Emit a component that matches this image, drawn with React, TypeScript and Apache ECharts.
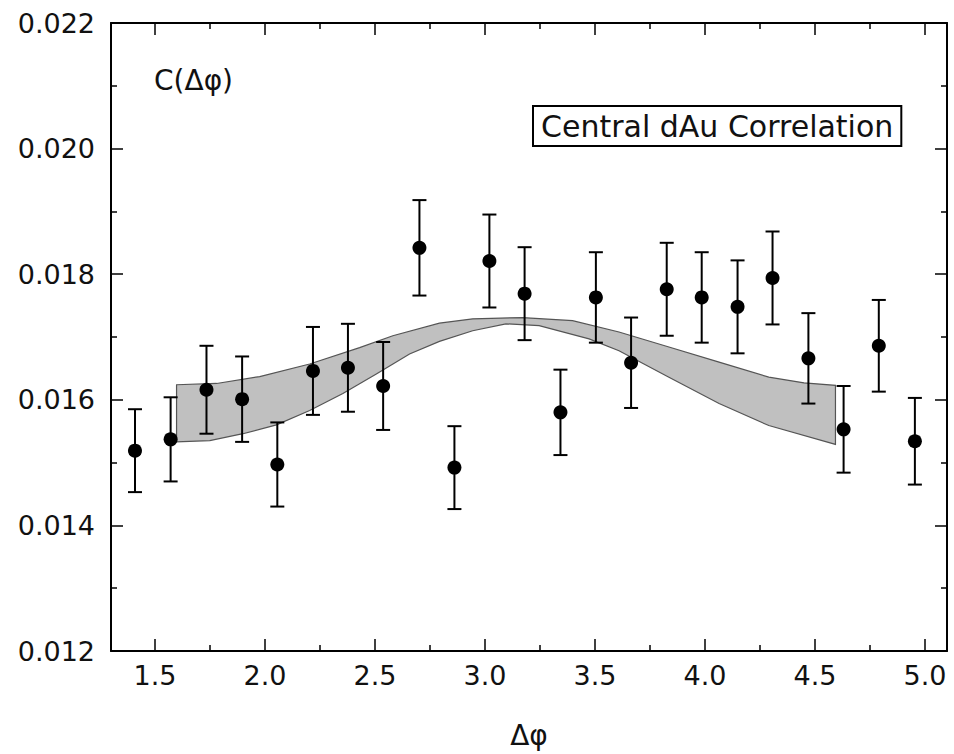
import React, { useEffect, useRef } from "react";
import * as echarts from "echarts";

// Data points: Δφ, C(Δφ), error
const phi = [1.409, 1.571, 1.734, 1.896, 2.056, 2.218, 2.377, 2.537, 2.702, 2.861, 3.02, 3.18, 3.343, 3.504, 3.664, 3.826, 3.985, 4.148, 4.307, 4.47, 4.63, 4.79, 4.954];
const corr = [0.01519, 0.01537, 0.01616, 0.01601, 0.01497, 0.01646, 0.01651, 0.01622, 0.01842, 0.01492, 0.01821, 0.01769, 0.0158, 0.01763, 0.01659, 0.01776, 0.01763, 0.01748, 0.01794, 0.01666, 0.01553, 0.01686, 0.01534];
const corrErr = [0.00066, 0.00067, 0.0007, 0.00068, 0.00067, 0.0007, 0.0007, 0.0007, 0.00076, 0.00066, 0.00074, 0.00074, 0.00068, 0.00072, 0.00072, 0.00074, 0.00072, 0.00074, 0.00074, 0.00072, 0.00069, 0.00073, 0.00069];

// Systematic band (upper and lower edges)
const bandUpperX = [1.598, 1.78, 1.976, 2.203, 2.43, 2.581, 2.793, 2.944, 3.171, 3.398, 3.609, 3.836, 4.064, 4.29, 4.45, 4.593];
const bandUpperY = [0.01624, 0.01626, 0.01637, 0.01657, 0.01683, 0.01702, 0.01722, 0.01729, 0.01731, 0.01726, 0.01708, 0.01684, 0.0166, 0.01636, 0.01627, 0.01623];
const bandLowerX = [1.598, 1.749, 1.9, 2.052, 2.203, 2.354, 2.506, 2.657, 2.793, 2.944, 3.095, 3.246, 3.473, 3.609, 3.836, 4.064, 4.29, 4.593];
const bandLowerY = [0.01533, 0.01535, 0.01546, 0.0156, 0.01583, 0.0161, 0.01641, 0.01673, 0.01693, 0.0171, 0.01721, 0.01718, 0.01697, 0.01678, 0.01636, 0.01594, 0.01559, 0.01529];

const xMin = 1.3;
const xMax = 5.1;
const yMin = 0.012;
const yMax = 0.022;
const yStep = 0.002;

const FONT = "DejaVu Sans";
const TEXT = "#111";

export default function App() {
  const ref = useRef<HTMLDivElement>(null);
  useEffect(() => {
    const chart = echarts.init(ref.current!, null, { renderer: "svg" });
    const line = { show: true, onZero: false, lineStyle: { color: "#000", width: 2 } };
    const tick = { show: true, inside: true, length: 12, lineStyle: { color: "#000", width: 1.5 } };
    const minor = { show: true, splitNumber: 2, length: 6, lineStyle: { color: "#000", width: 1.5 } };
    const xCommon: any = {
      type: "value", min: xMin, max: xMax, minInterval: 0.5, maxInterval: 0.5,
      splitLine: { show: false }, minorSplitLine: { show: false },
      axisLine: line, axisTick: tick, minorTick: minor,
    };
    const yCommon: any = {
      type: "value", min: yMin, max: yMax, interval: yStep,
      splitLine: { show: false }, minorSplitLine: { show: false },
      axisLine: line, axisTick: tick, minorTick: minor,
    };
    const barStyle = { stroke: "#000", lineWidth: 2 };
    chart.setOption({
      animation: false,
      backgroundColor: "#fff",
      grid: { left: 111, right: 7, top: 23, bottom: 101, containLabel: false },
      legend: {
        data: [{ name: "Central dAu Correlation", icon: "none" }],
        left: 533, top: 106, itemWidth: 0, itemGap: 0,
        padding: [5, 8, 5, 3], borderColor: "#000", borderWidth: 2,
        selectedMode: false,
        textStyle: { fontSize: 30, fontFamily: FONT, color: TEXT },
      },
      xAxis: [
        {
          ...xCommon, position: "bottom",
          axisLabel: {
            fontSize: 27, fontFamily: FONT, color: TEXT, margin: 11,
            showMinLabel: false, showMaxLabel: false,
            formatter: (v: number) => v.toFixed(1),
          },
          name: "Δφ", nameLocation: "middle", nameGap: 70,
          nameTextStyle: { fontSize: 28, fontFamily: FONT, color: TEXT },
        },
        { ...xCommon, position: "top", axisLabel: { show: false } },
      ],
      yAxis: [
        {
          ...yCommon, position: "left",
          axisLabel: {
            fontSize: 27, fontFamily: FONT, color: TEXT, margin: 16,
            formatter: (v: number) => v.toFixed(3),
          },
        },
        { ...yCommon, position: "right", axisLabel: { show: false } },
      ],
      graphic: [
        {
          type: "text", left: 154, top: 66,
          style: { text: "C(Δφ)", fontSize: 28, fontFamily: FONT, fill: TEXT },
        },
      ],
      series: [
        {
          type: "custom", name: "Central dAu Correlation",
          xAxisIndex: 0, yAxisIndex: 0, silent: true, z: 1,
          data: [[bandUpperX[0], bandUpperY[0]]],
          renderItem: (_params: any, api: any) => {
            const pts: number[][] = [];
            bandUpperX.forEach((x, i) => pts.push(api.coord([x, bandUpperY[i]])));
            for (let i = bandLowerX.length - 1; i >= 0; i--) pts.push(api.coord([bandLowerX[i], bandLowerY[i]]));
            return {
              type: "polygon",
              shape: { points: pts },
              style: { fill: "#c0c0c0", stroke: "#555", lineWidth: 1.2 },
            };
          },
        },
        {
          type: "custom", name: "errors", xAxisIndex: 0, yAxisIndex: 0, silent: true, z: 2,
          data: phi.map((x, i) => [x, corr[i], corrErr[i]]),
          encode: { x: 0, y: 1 },
          renderItem: (_params: any, api: any) => {
            const x = api.value(0), y = api.value(1), e = api.value(2);
            const top = api.coord([x, y + e]);
            const bot = api.coord([x, y - e]);
            const hw = 7;
            return {
              type: "group",
              children: [
                { type: "line", shape: { x1: top[0], y1: top[1], x2: bot[0], y2: bot[1] }, style: barStyle },
                { type: "line", shape: { x1: top[0] - hw, y1: top[1], x2: top[0] + hw, y2: top[1] }, style: barStyle },
                { type: "line", shape: { x1: bot[0] - hw, y1: bot[1], x2: bot[0] + hw, y2: bot[1] }, style: barStyle },
              ],
            };
          },
        },
        {
          type: "scatter", name: "data", xAxisIndex: 0, yAxisIndex: 0, z: 3,
          symbol: "circle", symbolSize: 14,
          itemStyle: { color: "#000", opacity: 1 },
          data: phi.map((x, i) => [x, corr[i]]),
        },
      ],
    });
    return () => chart.dispose();
  }, []);
  return (
    <div
      ref={ref}
      style={{ position: "fixed", left: 0, top: 0, width: 954, height: 754, background: "#fff" }}
    />
  );
}
